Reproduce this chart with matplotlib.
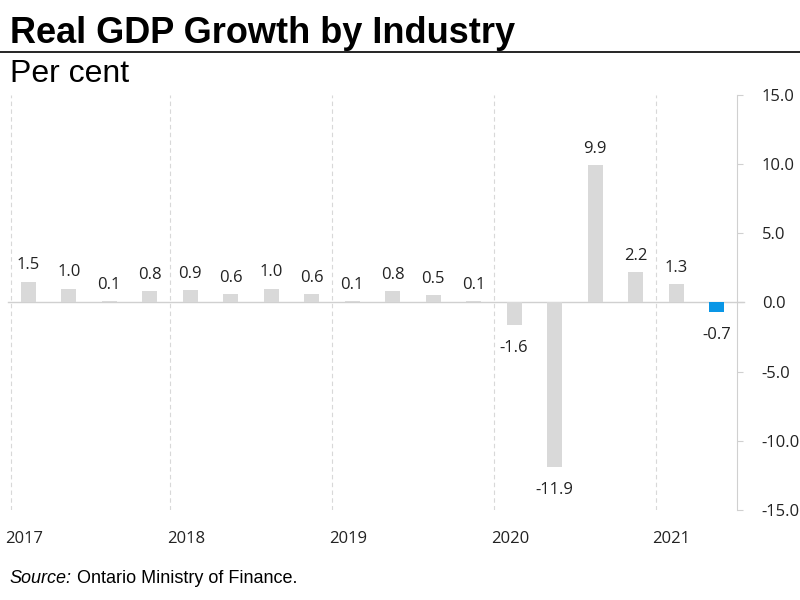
import numpy as np
import matplotlib.pyplot as plt

values = [1.5, 1.0, 0.1, 0.8, 0.9, 0.6, 1.0, 0.6, 0.1, 0.8, 0.5, 0.1,
          -1.6, -11.9, 9.9, 2.2, 1.3, -0.7]
years = ['2017', '2018', '2019', '2020', '2021']
yticks = [-15, -10, -5, 0, 5, 10, 15]

gray = '#d9d9d9'
blue = '#0a96e6'
colors = [gray] * (len(values) - 1) + [blue]
narrow = ['Liberation Sans Narrow', 'Liberation Sans']

fig = plt.figure(figsize=(8, 6), dpi=100)
ax = fig.add_axes([0.01, 0.15, 0.911, 0.692])

x = np.arange(len(values))
ax.bar(x, values, width=0.37, color=colors, zorder=2)
ax.axhline(0, color='#d0d0d0', lw=1, zorder=1, xmax=1.01, clip_on=False)

for xi, v in zip(x, values):
    off = 0.6 if v >= 0 else -1.1
    ax.text(xi, v + off, f'{v:.1f}', ha='center', va='bottom' if v >= 0 else 'top',
            fontsize=12, family='Open Sans', color='#222222')

# year boundaries
for k, yr in enumerate(years):
    xb = -0.5 + 4 * k
    if k > 0:
        ax.axvline(xb, color='#d8d8d8', ls=(0, (4, 3)), lw=0.8, zorder=0)
    ax.text(xb - 0.08, -16.5, yr, ha='left', va='top', fontsize=12,
            family='Open Sans', color='#222222')
ax.axvline(-0.42, color='#d8d8d8', ls=(0, (4, 3)), lw=0.8, zorder=0)

ax.set_xlim(-0.5, 17.5)
ax.set_ylim(-15, 15)
ax.yaxis.tick_right()
ax.set_yticks(yticks)
ax.set_yticklabels([f'{t:.1f}' for t in yticks], family='Open Sans', fontsize=12, color='#222222')
ax.tick_params(axis='y', length=4, color='#d0d0d0', pad=14)
ax.set_xticks([])
for s in ['top', 'left', 'bottom']:
    ax.spines[s].set_visible(False)
ax.spines['right'].set_color('#d0d0d0')

fig.text(0.012, 0.915, 'Real GDP Growth by Industry', fontsize=26, fontweight='bold',
         family=narrow, va='bottom')
fig.add_artist(plt.Line2D([0, 1], [0.913, 0.913], color='black', lw=1.2))
fig.text(0.012, 0.852, 'Per cent', fontsize=23, family=narrow, va='bottom')
fig.text(0.012, 0.022, 'Source:', fontsize=13, style='italic', family=narrow, va='bottom')
fig.text(0.096, 0.022, 'Ontario Ministry of Finance.', fontsize=13, family=narrow, va='bottom')

fig.savefig('out.png')
